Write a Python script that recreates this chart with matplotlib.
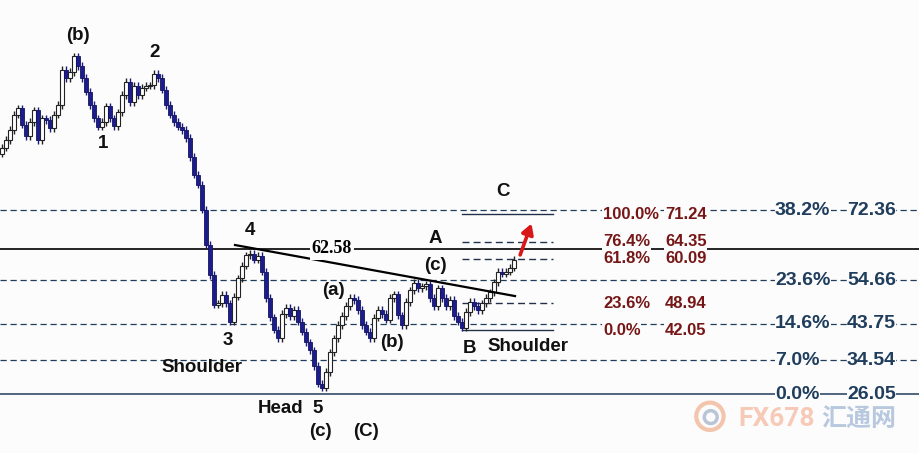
import matplotlib.pyplot as plt
from matplotlib.patches import Circle

# closing prices, one per bar
closes = [88.0, 90.0, 92.5, 96.3, 98.0, 93.8, 91.0, 94.5, 97.5, 90.0,
          95.5, 95.0, 93.0, 96.3, 98.8, 107.6, 105.6, 107.1, 111.1, 108.6,
          105.6, 102.1, 98.8, 95.5, 93.3, 94.5, 98.5, 95.5, 93.5, 97.0,
          101.3, 104.6, 99.5, 103.6, 101.3, 103.1, 103.6, 103.8, 106.6, 105.6,
          102.6, 98.8, 96.3, 94.5, 93.3, 92.5, 90.5, 85.7, 81.2, 78.7,
          72.4, 63.6, 56.0, 48.5, 48.9, 51.0, 48.9, 44.2, 50.5, 55.2,
          58.3, 61.0, 61.3, 59.8, 60.8, 56.8, 50.2, 45.4, 42.2, 40.1,
          46.2, 47.7, 45.7, 47.2, 44.2, 41.7, 39.1, 37.1, 33.1, 28.6,
          27.6, 31.6, 36.6, 40.1, 43.4, 45.7, 48.2, 50.2, 49.7, 47.2,
          43.4, 41.7, 40.1, 45.2, 47.2, 46.2, 44.7, 50.2, 51.2, 45.9,
          43.4, 49.2, 52.2, 54.0, 52.7, 53.2, 53.7, 50.2, 48.2, 52.7,
          50.2, 48.2, 49.7, 45.7, 44.2, 42.7, 46.7, 49.2, 48.2, 47.2,
          48.9, 50.2, 51.7, 54.2, 56.8, 56.3, 56.8, 57.8, 59.8]
first_open = 86.5

# long-term retracement levels (right side)
big_pct = ["38.2%", "23.6%", "14.6%", "7.0%", "0.0%"]
big_lvl = [72.36, 54.66, 43.75, 34.54, 26.05]

# projection levels (red)
red_pct = ["100.0%", "76.4%", "61.8%", "23.6%", "0.0%"]
red_lvl = [71.24, 64.35, 60.09, 48.94, 42.05]

neck_level = 62.58
trend_x = [58.25, 128.25]
trend_y = [63.55, 50.7]

# wave labels: text, bar index, price
waves = [("(b)", 19, 116.4), ("2", 38.25, 111.9), ("1", 25.25, 89.2),
         ("4", 62, 67.3), ("3", 56.5, 39.6), ("Shoulder", 50, 32.6),
         ("Head", 69.75, 22.3), ("5", 79, 22.3), ("(c)", 79.5, 16.5),
         ("(C)", 91, 16.5), ("(a)", 82.75, 52.0), ("(b)", 97.5, 38.9),
         ("(c)", 108.25, 58.5), ("A", 108.25, 65.1), ("C", 125.25, 76.9),
         ("B", 116.75, 37.6), ("Shoulder", 131.5, 38.1)]

plt.rcParams['font.family'] = ['Liberation Sans', 'DejaVu Sans']

fig = plt.figure(figsize=(9.19, 4.53), dpi=100)
fig.patch.set_facecolor("#fcfcfc")
ax = fig.add_axes([0, 0, 1, 1])
ax.set_facecolor("#fcfcfc")
ax.set_xlim(-0.5, 229.25)
ax.set_ylim(11.2, 125.22)
ax.axis("off")

navy = "#1f3d5c"
# horizontal levels across the chart
for lv in big_lvl[:-1]:
    ax.axhline(lv, color=navy, lw=0.9, ls=(0, (5, 3)), zorder=1)
ax.axhline(big_lvl[-1], color=navy, lw=1.1, zorder=1)
ax.axhline(neck_level, color="black", lw=1.2, zorder=1)

# short projection lines
for i, lv in enumerate(red_lvl):
    ls = "-" if i in (0, len(red_lvl) - 1) else (0, (5, 3))
    ax.plot([115, 137.75], [lv, lv], color="#22304a", lw=1.0, ls=ls, zorder=1)

# candles
opens = [first_open] + closes[:-1]
wick = 0.9
for i, (o, c) in enumerate(zip(opens, closes)):
    hi = max(o, c) + wick
    lo = min(o, c) - wick
    if c < o:
        ax.vlines(i, lo, hi, color="#1a1a7e", lw=1.0, zorder=2)
        ax.bar(i, o - c, bottom=c, width=0.85, color="#1c1c8c",
               edgecolor="#14145e", lw=0.6, zorder=3)
    else:
        ax.vlines(i, lo, hi, color="#222222", lw=1.0, zorder=2)
        ax.bar(i, max(c - o, 0.3), bottom=o, width=0.8, color="white",
               edgecolor="#222222", lw=0.8, zorder=3)

# neckline trend
ax.plot(trend_x, trend_y, color="black", lw=1.6, zorder=4)
ax.text(82.5, neck_level, f"{neck_level:.2f}", ha="center", va="center",
        fontsize=13, fontweight="bold", family="Liberation Serif",
        bbox=dict(facecolor="#fcfcfc", edgecolor="none", pad=1.5), zorder=5)

# wave labels
for t, x, y in waves:
    ax.text(x, y, t, ha="center", va="center", fontsize=13.5,
            fontweight="bold", color="#111111", zorder=5)

# right labels
for p, lv in zip(big_pct, big_lvl):
    ax.text(193.25, lv, p, ha="left", va="center", fontsize=14,
            fontweight="bold", color=navy,
            bbox=dict(facecolor="#fcfcfc", edgecolor="none", pad=0.2), zorder=5)
    ax.text(211.25, lv, f"{lv:.2f}", ha="left", va="center", fontsize=14,
            fontweight="bold", color=navy,
            bbox=dict(facecolor="#fcfcfc", edgecolor="none", pad=0.2), zorder=5)

for p, lv in zip(red_pct, red_lvl):
    ax.text(150.25, lv, p, ha="left", va="center", fontsize=12,
            fontweight="bold", color="#761616",
            bbox=dict(facecolor="#fcfcfc", edgecolor="none", pad=0.5), zorder=5)
    ax.text(165.75, lv, f"{lv:.2f}", ha="left", va="center", fontsize=12,
            fontweight="bold", color="#761616",
            bbox=dict(facecolor="#fcfcfc", edgecolor="none", pad=0.5), zorder=5)

# red arrow
ax.annotate("", xy=(132.6, 69.6), xytext=(129.3, 60.4),
            arrowprops=dict(arrowstyle="-|>,head_length=0.6,head_width=0.35",
                            color="#d81818", lw=2.6), zorder=6)

# watermark
logo = fig.add_axes([0.755, 0.045, 0.035, 0.072])
logo.set_xlim(-1, 1)
logo.set_ylim(-1, 1)
logo.set_aspect("equal")
logo.axis("off")
logo.add_patch(Circle((0, 0), 0.85, fill=False, lw=3, ec="#f3b89a", alpha=0.8))
logo.add_patch(Circle((0.05, -0.05), 0.4, fill=False, lw=2.5, ec="#a9b8cc", alpha=0.8))
fig.text(0.803, 0.075, "FX678", fontsize=19, fontweight="bold",
         family="Roboto", color="#f6b9a0", alpha=0.75, va="center", ha="left")
fig.text(0.894, 0.075, "汇通网", fontsize=18, fontweight="bold",
         family=["Noto Sans CJK SC", "DejaVu Sans"],
         color="#a7bcd8", alpha=0.8, va="center", ha="left")

fig.savefig("out.png", dpi=100, facecolor=fig.get_facecolor())
